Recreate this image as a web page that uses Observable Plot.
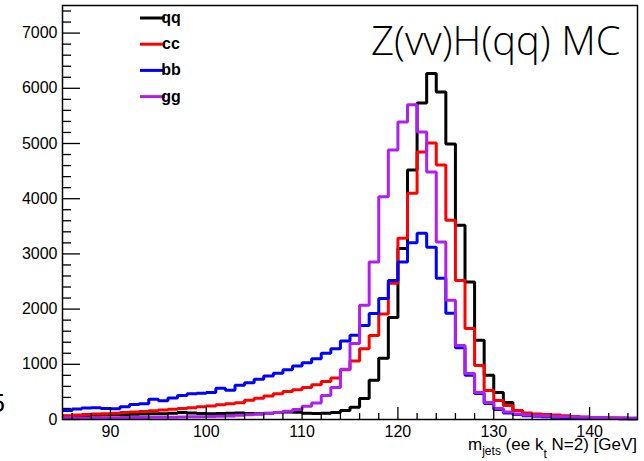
<!DOCTYPE html>
<html><head><meta charset="utf-8">
<script src="https://cdn.jsdelivr.net/npm/d3@7"></script>
<script src="https://cdn.jsdelivr.net/npm/@observablehq/plot@0.6"></script>
<style>
body{margin:0;background:#fff}
#chart{position:relative;width:644px;height:461px;overflow:hidden}
</style>
</head><body><div id="chart"></div>
<script>
// bin low edges [GeV], 1 GeV bins from 85 to 145
const binLow = [85,86,87,88,89,90,91,92,93,94,95,96,97,98,99,100,101,102,103,104,105,106,107,108,109,110,111,112,113,114,115,116,117,118,119,120,121,122,123,124,125,126,127,128,129,130,131,132,133,134,135,136,137,138,139,140,141,142,143,144];
const binEnd = 145;
const qq = [60,65,70,75,80,85,90,95,100,105,105,115,125,120,110,105,110,115,120,110,105,115,125,135,130,115,110,115,125,165,220,380,710,1110,1850,3100,4520,5735,6270,5935,4990,3520,2490,1435,800,490,310,165,110,80,60,50,40,35,30,25,20,18,15,12];
const cc = [70,80,90,100,105,115,125,135,145,160,170,185,200,215,230,245,265,285,305,350,385,425,465,505,540,580,630,690,750,900,1060,1280,1520,1910,2470,3285,4100,4845,5010,4610,3610,2520,1650,980,525,345,255,165,120,100,90,80,70,55,45,38,32,28,22,18];
const bb = [165,190,210,215,200,195,230,270,285,365,340,390,435,465,475,490,565,530,620,665,730,790,840,900,970,1030,1100,1200,1280,1420,1525,1705,1920,2190,2520,2855,3200,3375,3120,2560,1925,1300,800,470,290,180,120,90,70,60,50,40,35,30,28,25,22,20,18,15];
const gg = [25,25,28,30,30,32,35,35,38,40,40,42,45,48,50,55,60,65,75,85,95,110,125,150,180,240,300,435,580,910,1375,2070,2855,4035,4880,5390,5700,5210,4485,3215,2160,1340,835,490,310,200,135,100,80,70,62,55,50,45,42,38,35,32,30,28];

const names = ["qq","cc","bb","gg"];
const seriesValues = [qq, cc, bb, gg];
const colors = ["#000000","#ff0000","#0000ff","#b01ef0"];

const yMajor = [0,1000,2000,3000,4000,5000,6000,7000];
const yMinor = [200,400,600,800,1200,1400,1600,1800,2200,2400,2600,2800,3200,3400,3600,3800,4200,4400,4600,4800,5200,5400,5600,5800,6200,6400,6600,6800,7200,7400];
const xMajor = [90,100,110,120,130,140];
const xMinor = [86,88,92,94,96,98,102,104,106,108,112,114,116,118,122,124,126,128,132,134,136,138,142,144];

const titleText = "Z(vv)H(qq) MC";

const rows = [];
names.forEach((n, si) => {
  const v = seriesValues[si];
  binLow.forEach((x, i) => rows.push({name: n, x, y: v[i]}));
  rows.push({name: n, x: binEnd, y: v[v.length - 1]});
});

const W = 644, H = 461, mL = 62, mR = 7, mT = 5, mB = 42;
const pw = W - mL - mR, ph = H - mT - mB;
const FONT = "'Liberation Sans', Arial, Helvetica, sans-serif";

const chart = Plot.plot({
  width: W, height: H,
  marginLeft: mL, marginRight: mR, marginTop: mT, marginBottom: mB,
  style: {fontFamily: FONT, fontSize: "16px", background: "#fff", color: "#000"},
  x: {domain: [85, 145]},
  y: {domain: [0, 7500]},
  color: {domain: names, range: colors},
  marks: [
    Plot.line(rows, {x: "x", y: "y", z: "name", stroke: "name", curve: "step-after", strokeWidth: 3, strokeLinejoin: "miter", strokeLinecap: "butt"}),
    Plot.tickY(yMajor, {y: d => d, insetRight: pw - 18, stroke: "#000", strokeWidth: 1.3}),
    Plot.tickY(yMinor, {y: d => d, insetRight: pw - 9, stroke: "#000", strokeWidth: 1.3}),
    Plot.tickX(xMajor, {x: d => d, insetTop: ph - 12, stroke: "#000", strokeWidth: 1.3}),
    Plot.tickX(xMinor, {x: d => d, insetTop: ph - 6, stroke: "#000", strokeWidth: 1.3}),
    Plot.axisY({ticks: yMajor, tickSize: 0, tickPadding: 5, label: null, fontSize: 16, tickFormat: d3.format("d"), fontFamily: FONT}),
    Plot.axisX({ticks: xMajor, tickSize: 0, tickPadding: 6, label: null, fontSize: 16, tickFormat: d3.format("d"), fontFamily: FONT}),
    Plot.frame({stroke: "#000", strokeWidth: 1.5}),
    Plot.text([titleText], {frameAnchor: "top-right", dx: -17, dy: 21, lineAnchor: "top", textAnchor: "end", fontSize: 40, fontWeight: 300, fontFamily: "'Open Sans', 'Liberation Sans', sans-serif", fill: "#000"})
  ]
});
document.getElementById("chart").appendChild(chart);

// legend + axis title + stray glyph
const svg = d3.select(chart);
const lg = svg.append("g").attr("font-family", FONT);
names.forEach((n, i) => {
  const base = 23 + 26.2 * i;
  lg.append("line").attr("x1", 140).attr("x2", 165).attr("y1", base - 5).attr("y2", base - 5)
    .attr("stroke", colors[i]).attr("stroke-width", 3);
  lg.append("text").attr("x", 171).attr("y", base).attr("font-weight", "bold")
    .attr("font-size", 16).attr("fill", "#000").text(n);
});
const xt = svg.append("text").attr("x", 637).attr("y", 450).attr("text-anchor", "end")
  .attr("font-family", FONT).attr("font-size", 17).attr("fill", "#000");
xt.append("tspan").text("m");
xt.append("tspan").attr("font-size", 12).attr("dy", 5).text("jets");
xt.append("tspan").attr("dy", -5).text(" (ee k");
xt.append("tspan").attr("font-size", 12).attr("dy", 8).text("t");
xt.append("tspan").attr("dy", -8).text(" N=2) [GeV]");
svg.append("text").attr("x", 5).attr("y", 412).attr("text-anchor", "end").attr("font-family", FONT).attr("font-size", 26).attr("fill", "#000").text("5");
</script>
</body></html>
